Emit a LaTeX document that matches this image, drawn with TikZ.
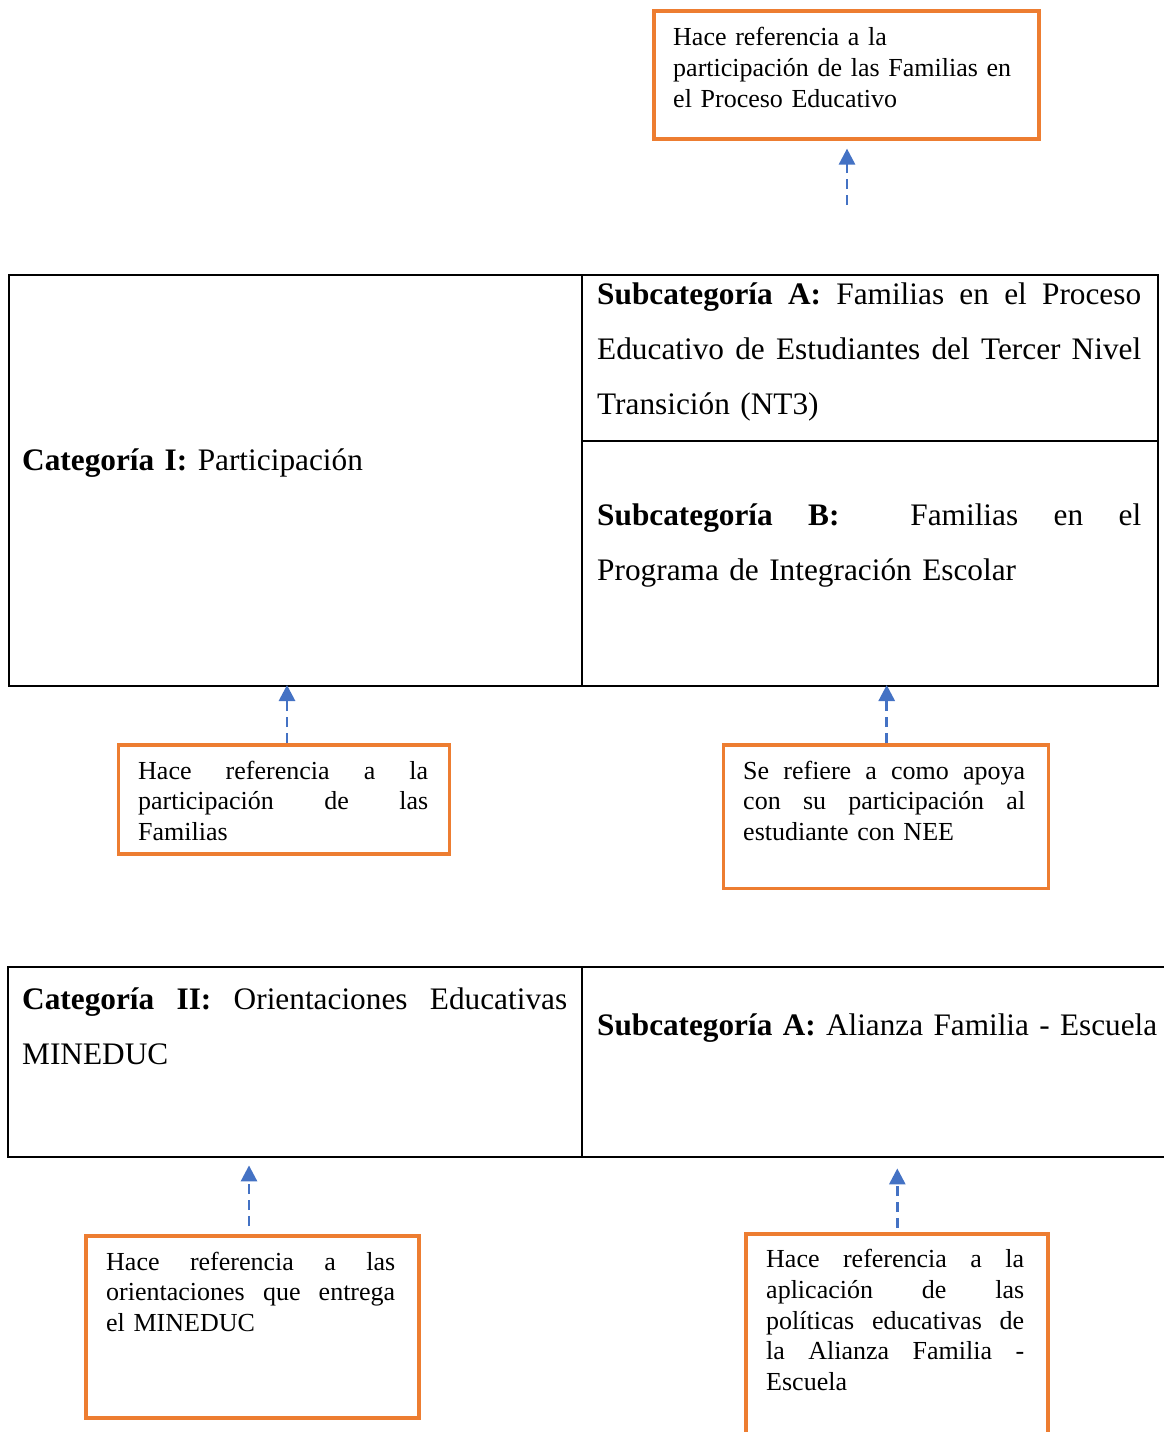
\documentclass[tikz,border=0pt]{standalone}
\usepackage{fontspec}
\usepackage{graphicx}
\setmainfont{Liberation Serif}
\usetikzlibrary{arrows.meta,calc}
\definecolor{oran}{HTML}{ED7D31}
\definecolor{blu}{HTML}{4472C4}
\newcommand{\jl}[2]{\leavevmode\hbox to #1{\spaceskip=\fontdimen2\font plus 1fil\relax #2}}
\begin{document}
\begin{tikzpicture}[x=1pt,y=-1pt,
  obox/.style={draw=oran,line width=3.6pt,rectangle,inner sep=0pt,anchor=north west},
  tline/.style={draw=black,line width=2pt},
  arr/.style={draw=blu,line width=2.8pt,dash pattern=on 10pt off 6pt,-{Triangle[width=16pt,length=16pt]}},
  small/.style={font=\fontsize{26}{30.7}\selectfont,inner sep=0pt,anchor=base west,align=left},
  big/.style={font=\fontsize{31.3}{55}\selectfont,inner sep=0pt,anchor=base west,align=left}]
\useasboundingbox (0,0) rectangle (1163,1432);

% ---------- top box ----------
\node[obox,minimum width=385pt,minimum height=128pt] (topbox) at (652,9) {};
\node[small,text width=360pt] (toptext) at (673,45.7)
  {Hace referencia a la\\ participación de las Familias en\\ el Proceso Educativo};
\coordinate (a0) at (847,205);
\draw[arr,shorten >=8pt] (a0) -- (847,0 |- topbox.south);

% ---------- table 1 ----------
\node[tline,rectangle,inner sep=0pt,anchor=north west,minimum width=1149pt,minimum height=411pt] (tab1) at (8,274) {};
\draw[tline] (582,0 |- tab1.north) -- (582,0 |- tab1.south);
\draw[tline] (582,441) -- (tab1.east |- 0,441);
\node[big,text width=540pt] (cat1) at (22,470) {\textbf{Categoría I:} Participación};
\node[big,text width=544pt] (subA) at (597,304.3)
  {\jl{544pt}{\textbf{Subcategoría A:} Familias en el Proceso}\\
   \jl{544pt}{Educativo de Estudiantes del Tercer Nivel}\\
   Transición (NT3)};
\node[big,text width=544pt] (subB) at (597,525.7)
  {\jl{544pt}{\textbf{Subcategoría B:}\ \ Familias en el}\\
   Programa de Integración Escolar};

% ---------- boxes under table 1 ----------
\node[obox,minimum width=331pt,minimum height=109pt] (l1box) at (116.7,743) {};
\node[small,text width=290pt] (l1text) at (138,779)
  {\jl{290pt}{Hace referencia a la}\\ \jl{290pt}{participación de las}\\ Familias};
\node[obox,minimum width=325pt,minimum height=143.7pt] (r1box) at (721.7,743) {};
\node[small,text width=282pt] (r1text) at (743,779)
  {\jl{282pt}{Se refiere a como apoya}\\ \jl{282pt}{con su participación al}\\ estudiante con NEE};
\draw[arr,shorten >=-2pt] (287,0 |- l1box.north) -- (287,0 |- tab1.south);
\draw[arr,shorten >=-2pt] (886.7,0 |- r1box.north) -- (886.7,0 |- tab1.south);

% ---------- table 2 ----------
\node[inner sep=0pt,anchor=north west,minimum width=1160pt,minimum height=190pt] (tab2) at (8,967) {};
\draw[tline] (tab2.north east) -- (tab2.north west) -- (tab2.south west) -- (tab2.south east);
\draw[tline] (582,0 |- tab2.north) -- (582,0 |- tab2.south);
\node[big,text width=545pt] (cat2) at (22,1009)
  {\jl{545pt}{\textbf{Categoría II:} Orientaciones Educativas}\\ MINEDUC};
\node[big,text width=600pt] (subA2) at (597,1035.7)
  {\resizebox{560pt}{\height}{\textbf{Subcategoría A:} Alianza Familia - Escuela}};

% ---------- boxes under table 2 ----------
\node[obox,minimum width=333pt,minimum height=182pt] (l2box) at (84,1234) {};
\node[small,text width=289pt] (l2text) at (106,1270)
  {\jl{289pt}{Hace referencia a las}\\ \jl{289pt}{orientaciones que entrega}\\ el MINEDUC};
\node[obox,minimum width=302pt,minimum height=230pt] (r2box) at (744,1232) {};
\node[small,text width=258pt] (r2text) at (766,1267.7)
  {\jl{258pt}{Hace referencia a la}\\ \jl{258pt}{aplicación de las}\\ \jl{258pt}{políticas educativas de}\\ \jl{258pt}{la Alianza Familia -}\\ Escuela};
\draw[arr,shorten <=8pt,shorten >=8pt] (249,0 |- l2box.north) -- (249,0 |- tab2.south);
\draw[arr,shorten <=4pt,shorten >=11pt] (897.3,0 |- r2box.north) -- (897.3,0 |- tab2.south);
\end{tikzpicture}
\end{document}
